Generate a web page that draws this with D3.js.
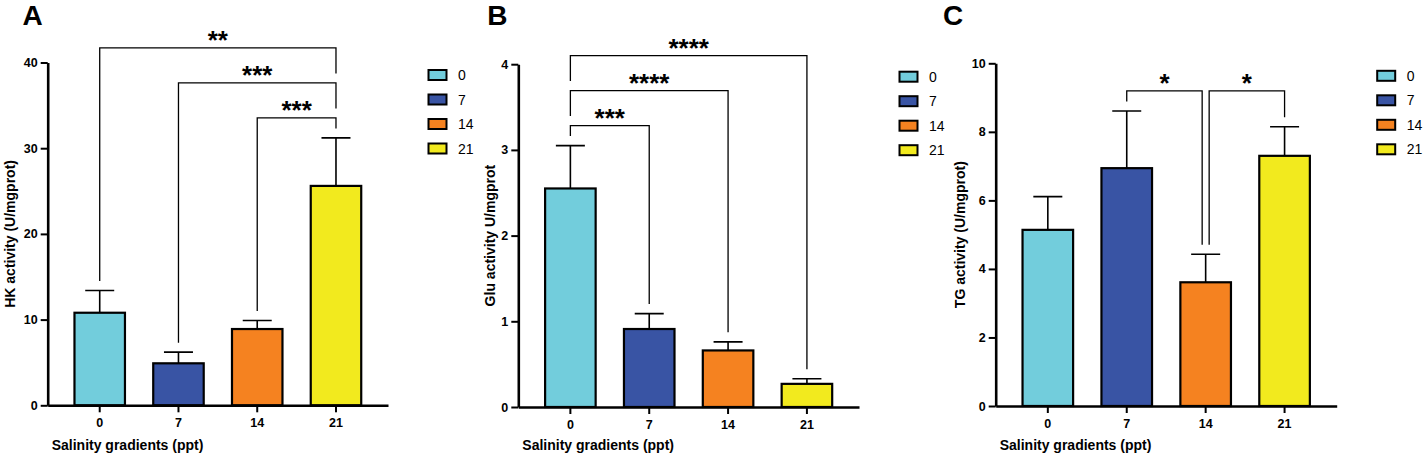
<!DOCTYPE html>
<html>
<head>
<meta charset="utf-8">
<script src="https://cdn.jsdelivr.net/npm/d3@7"></script>
<style>
  body { margin: 0; background: #fff; }
  svg { display: block; }
  svg text { font-family: "Liberation Sans", Arial, Helvetica, sans-serif; }
  .tick text { font-weight: bold; font-size: 12.5px; fill: #000; }
</style>
</head>
<body>
<svg id="chart" width="1423" height="457"></svg>
<script>
// groups (salinity, ppt)
var groups = ["0", "7", "14", "21"];

// A: HK activity
var hkMean = [10.8, 4.9, 8.9, 25.6];
var hkSD = [2.6, 1.3, 1.0, 5.6];
var hkTicks = [0, 10, 20, 30, 40];
var hkSig = [
  {from: "14", to: "21", tier: 0, label: "***"},
  {from: "7", to: "21", tier: 1, label: "***"},
  {from: "0", to: "21", tier: 2, label: "**"}
];

// B: Glu activity
var gluMean = [2.55, 0.91, 0.66, 0.27];
var gluSD = [0.50, 0.18, 0.10, 0.06];
var gluTicks = [0, 1, 2, 3, 4];
var gluSig = [
  {from: "0", to: "7", tier: 0, label: "***"},
  {from: "0", to: "14", tier: 1, label: "****"},
  {from: "0", to: "21", tier: 2, label: "****"}
];

// C: TG activity
var tgMean = [5.14, 6.94, 3.61, 7.30];
var tgSD = [0.97, 1.67, 0.82, 0.85];
var tgTicks = [0, 2, 4, 6, 8, 10];
var tgSig = [
  {from: "7", to: "14", tier: 0, label: "*"},
  {from: "14", to: "21", tier: 0, label: "*"}
];

var fills = ["#72CDDC", "#3954A4", "#F58220", "#F2EA1E"];

var svg = d3.select("#chart");

function drawPanel(p) {
  var g = svg.append("g");

  var x = d3.scaleBand()
    .domain(groups)
    .range([p.x0, p.x1])
    .paddingInner(0.359)
    .paddingOuter(0.34);

  var y = d3.scaleLinear()
    .domain([0, d3.max(p.ticks)])
    .range([p.bottom, p.top]);

  var rows = groups.map(function(k, i) {
    return {group: k, mean: p.mean[i], sd: p.sd[i], fill: fills[i]};
  });
  var byGroup = {};
  rows.forEach(function(d) { byGroup[d.group] = d; });

  // bars
  g.selectAll(".bar")
    .data(rows)
    .enter().append("rect")
    .attr("x", function(d) { return x(d.group); })
    .attr("y", function(d) { return y(d.mean); })
    .attr("width", x.bandwidth())
    .attr("height", function(d) { return y(0) - y(d.mean); })
    .attr("fill", function(d) { return d.fill; })
    .attr("stroke", "#000")
    .attr("stroke-width", 2.2);

  // error bars (upper only)
  var cx = function(d) { return x(d.group) + x.bandwidth() / 2; };
  g.selectAll(".err")
    .data(rows)
    .enter().append("path")
    .attr("d", function(d) {
      var top = y(d.mean + d.sd);
      return "M" + cx(d) + "," + y(d.mean) + "V" + top +
        "M" + (cx(d) - 14.5) + "," + top + "H" + (cx(d) + 14.5);
    })
    .attr("fill", "none")
    .attr("stroke", "#000")
    .attr("stroke-width", 1.6);

  // axes
  var yAxis = g.append("g")
    .attr("transform", "translate(" + p.x0 + ",0)")
    .call(d3.axisLeft(y).tickValues(p.ticks).tickFormat(d3.format("~g"))
      .tickSize(7).tickSizeOuter(0).tickPadding(3));
  var xAxis = g.append("g")
    .attr("transform", "translate(0," + p.bottom + ")")
    .call(d3.axisBottom(x).tickSize(7).tickSizeOuter(0).tickPadding(6));
  [yAxis, xAxis].forEach(function(a) {
    a.attr("font-family", null).attr("font-size", null);
    a.select(".domain").attr("stroke-width", 2.6).attr("stroke", "#000");
    a.selectAll(".tick line").attr("stroke-width", 2).attr("stroke", "#000");
  });

  // significance brackets
  var errTop = function(k) { return y(byGroup[k].mean + byGroup[k].sd); };
  var span = function(b) {
    var i0 = groups.indexOf(b.from), i1 = groups.indexOf(b.to);
    return groups.slice(Math.min(i0, i1), Math.max(i0, i1) + 1);
  };
  var base = d3.min(p.sig.filter(function(b) { return b.tier == 0; }), function(b) {
    return d3.min(span(b), errTop) - 20;
  });
  var lineY = function(b) { return base - b.tier * 35; };

  function legEnd(b, k) {
    var below = p.sig.filter(function(o) {
      return o.tier < b.tier && (o.from == k || o.to == k);
    });
    if (below.length) return lineY(d3.greatest(below, function(o) { return o.tier; })) - 9.5;
    return errTop(k) - 9.5;
  }
  function legX(b, k, isRight) {
    var shared = p.sig.some(function(o) {
      return o !== b && o.tier == b.tier && (o.from == k || o.to == k);
    });
    var c = x(k) + x.bandwidth() / 2;
    return shared ? c + (isRight ? -3.5 : 3.5) : c;
  }

  var br = g.selectAll(".sig")
    .data(p.sig)
    .enter().append("g");

  br.append("path")
    .attr("d", function(b) {
      var xl = legX(b, b.from, false), xr = legX(b, b.to, true), ly = lineY(b);
      return "M" + xl + "," + legEnd(b, b.from) + "V" + ly + "H" + xr + "V" + legEnd(b, b.to);
    })
    .attr("fill", "none")
    .attr("stroke", "#000")
    .attr("stroke-width", 1.3);

  br.append("text")
    .attr("x", function(b) { return (legX(b, b.from, false) + legX(b, b.to, true)) / 2; })
    .attr("y", function(b) { return lineY(b) + 1; })
    .attr("text-anchor", "middle")
    .attr("font-weight", "bold")
    .attr("font-size", 26)
    .text(function(b) { return b.label; });

  // axis titles
  g.append("text")
    .attr("transform", "translate(" + p.titleX + "," + ((p.top + p.bottom) / 2) + ") rotate(-90)")
    .attr("text-anchor", "middle")
    .attr("font-weight", "bold")
    .attr("font-size", 14)
    .text(p.yTitle);

  g.append("text")
    .attr("x", p.x0 + 4)
    .attr("y", 450)
    .attr("font-weight", "bold")
    .attr("font-size", 14)
    .text("Salinity gradients (ppt)");

  // panel letter
  g.append("text")
    .attr("x", p.letterX)
    .attr("y", 25)
    .attr("font-weight", "bold")
    .attr("font-size", 28)
    .text(p.letter);

  // legend
  var lg = g.selectAll(".lg")
    .data(rows)
    .enter().append("g")
    .attr("transform", function(d, i) {
      return "translate(" + (p.x1 + 40.5) + "," + (p.top + 12.5 + i * 24.5) + ")";
    });
  lg.append("rect")
    .attr("x", 0)
    .attr("y", -5)
    .attr("width", 18)
    .attr("height", 10)
    .attr("fill", function(d) { return d.fill; })
    .attr("stroke", "#000")
    .attr("stroke-width", 2);
  lg.append("text")
    .attr("x", 29.5)
    .attr("y", 5)
    .attr("font-size", 14)
    .text(function(d) { return d.group; });
}

drawPanel({letter: "A", letterX: 22.5, x0: 47.7, x1: 388, top: 62.5, bottom: 405.3,
  mean: hkMean, sd: hkSD, ticks: hkTicks, sig: hkSig, titleX: 15,
  yTitle: "HK activity (U/mgprot)"});
drawPanel({letter: "B", letterX: 487.3, x0: 518.3, x1: 859, top: 64.2, bottom: 407,
  mean: gluMean, sd: gluSD, ticks: gluTicks, sig: gluSig, titleX: 494.5,
  yTitle: "Glu activity U/mgprot"});
drawPanel({letter: "C", letterX: 943, x0: 995.7, x1: 1336.7, top: 63.3, bottom: 406,
  mean: tgMean, sd: tgSD, ticks: tgTicks, sig: tgSig, titleX: 964.5,
  yTitle: "TG activity (U/mgprot)"});
</script>
</body>
</html>
